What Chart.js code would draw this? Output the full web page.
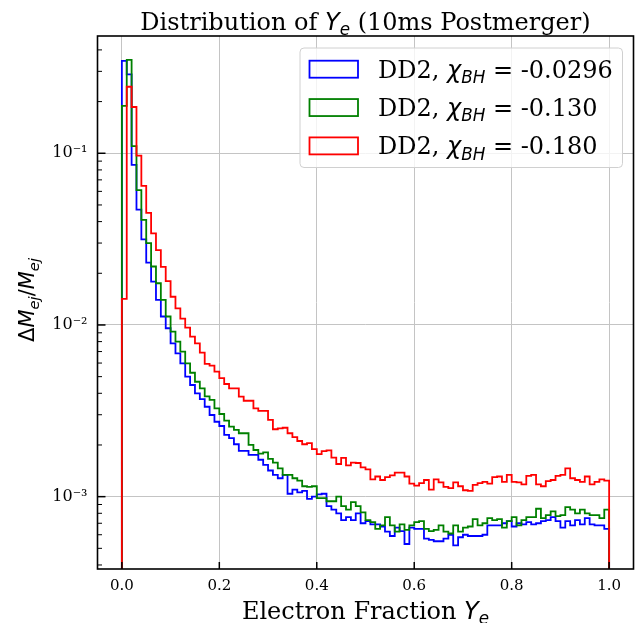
<!DOCTYPE html>
<html>
<head>
<meta charset="utf-8">
<script src="https://cdn.jsdelivr.net/npm/chart.js@4.4.0/dist/chart.umd.min.js"></script>
<style>
  html, body { margin: 0; padding: 0; background: #fff; }
  #wrap { width: 641px; height: 623px; position: relative; }
</style>
</head>
<body>
<div id="wrap"><canvas id="chart_yeDistribution"></canvas></div>
<script>
// histogram of electron fraction, 100 bins of width 0.01 on [0, 1]
const binWidth = 0.01;
const xTickValues = [0.0, 0.2, 0.4, 0.6, 0.8, 1.0];
const yDecades = [-3, -2, -1];

const labelsDD2 = ['-0.0296', '-0.130', '-0.180'];
const colorsDD2 = ['#0000ff', '#008000', '#ff0000'];

const dd2Chi0296 = [
  0.345, 0.288, 0.0855, 0.047, 0.0315, 0.0231, 0.0179, 0.014, 0.0112, 0.00957,
  0.00782, 0.00684, 0.00598, 0.0050, 0.00447, 0.0040, 0.0037, 0.00334, 0.00299, 0.00273,
  0.00258, 0.00229, 0.00219, 0.00202, 0.00185, 0.00185, 0.00175, 0.00175, 0.00164, 0.00153,
  0.00142, 0.00134, 0.00128, 0.00134, 0.00104, 0.0011, 0.00106, 0.00108, 0.00097, 0.001,
  0.00103, 0.00104, 0.00088, 0.00084, 0.0008, 0.00073, 0.00076, 0.00073, 0.0008, 0.0007,
  0.00072, 0.00069, 0.00069, 0.00067, 0.000625, 0.00059, 0.00066, 0.00063, 0.00053, 0.00066,
  0.00065, 0.00065, 0.00057, 0.00056, 0.00055, 0.00055, 0.00057, 0.0006, 0.00052, 0.00058,
  0.0006, 0.00059, 0.00059, 0.00059, 0.0006, 0.00068, 0.00068, 0.00068, 0.0007, 0.00072,
  0.00067, 0.0007, 0.00069, 0.00071, 0.00069, 0.0007, 0.00072, 0.00073, 0.00076, 0.00072,
  0.00066, 0.00072, 0.00068, 0.00073, 0.00069, 0.00075, 0.00069, 0.00068, 0.00068, 0.00065
];
const dd2Chi130 = [
  0.189, 0.35, 0.110, 0.061, 0.0409, 0.030, 0.0219, 0.0175, 0.014, 0.0112,
  0.00914, 0.008, 0.007, 0.00598, 0.00527, 0.00467, 0.00427, 0.00384, 0.00366, 0.00327,
  0.00303, 0.00277, 0.00256, 0.00245, 0.00234, 0.00234, 0.002, 0.00187, 0.00178, 0.00181,
  0.00166, 0.00158, 0.00146, 0.00134, 0.00134, 0.00128, 0.00124, 0.00115, 0.00114, 0.00115,
  0.00098, 0.00098, 0.00094, 0.00094, 0.001, 0.00088, 0.00084, 0.00093, 0.00088, 0.00081,
  0.00073, 0.00071, 0.00065, 0.00068, 0.00076, 0.00068, 0.000625, 0.00069, 0.00064, 0.00068,
  0.00071, 0.00072, 0.00065, 0.00063, 0.00064, 0.00068, 0.000625, 0.00061, 0.00068, 0.000625,
  0.00066, 0.00067, 0.00074, 0.00068, 0.0007, 0.00075, 0.00073, 0.00074, 0.00066, 0.00072,
  0.00076, 0.00068, 0.00073, 0.00076, 0.00076, 0.00085, 0.00075, 0.00078, 0.00082, 0.00077,
  0.00078, 0.00087, 0.00084, 0.0008, 0.00084, 0.0008, 0.00078, 0.00078, 0.00075, 0.00084
];
const dd2Chi180 = [
  0.0142, 0.244, 0.186, 0.097, 0.0645, 0.045, 0.0342, 0.0273, 0.0218, 0.018,
  0.0146, 0.0125, 0.0109, 0.00966, 0.00856, 0.00782, 0.0069, 0.00593, 0.0058, 0.00535,
  0.0049, 0.00453, 0.00427, 0.00427, 0.00382, 0.00362, 0.00362, 0.00327, 0.00316, 0.00316,
  0.0028, 0.00247, 0.0025, 0.00252, 0.00234, 0.00222, 0.00211, 0.00202, 0.00205, 0.00189,
  0.00177, 0.00184, 0.00186, 0.00169, 0.00155, 0.00168, 0.00152, 0.00158, 0.00157, 0.00148,
  0.00144, 0.00126, 0.00131, 0.00125, 0.0013, 0.00133, 0.00138, 0.00138, 0.00131, 0.00119,
  0.00116, 0.0012, 0.00125, 0.0011, 0.00126, 0.00121, 0.00114, 0.00112, 0.00121, 0.00115,
  0.00109, 0.00108, 0.00117, 0.0012, 0.00122, 0.00119, 0.0013, 0.00131, 0.00122, 0.00134,
  0.00122, 0.00121, 0.00118, 0.00132, 0.00134, 0.00118, 0.00115, 0.00123, 0.00125, 0.00132,
  0.00134, 0.00146, 0.00128, 0.00125, 0.00122, 0.00131, 0.00118, 0.00122, 0.00126, 0.00124
];

const yMin = 3.79e-4, yMax = 0.482;
const floorValue = 1e-6; // outline drops to "zero" at both ends (off the log axis)

// step outline like histtype='step': up at the first edge, down at the last one
function toSteps(values) {
  const pts = [{ x: 0, y: floorValue }];
  values.forEach((v, i) => pts.push({ x: i * binWidth, y: v }));
  pts.push({ x: values.length * binWidth, y: floorValue });
  return pts;
}

const SERIF = '"DejaVu Serif", "Liberation Serif", serif';
const SANS = '"DejaVu Sans", "Liberation Sans", sans-serif';
const SUP = { '-': '\u207B', '0': '\u2070', '1': '\u00B9', '2': '\u00B2', '3': '\u00B3', '4': '\u2074',
  '5': '\u2075', '6': '\u2076', '7': '\u2077', '8': '\u2078', '9': '\u2079' };

function richText(ctx, parts, x, y, align) {
  let w = 0;
  parts.forEach(p => { ctx.font = p.font; p.w = ctx.measureText(p.text).width; w += p.w; });
  let cx = align === 'center' ? x - w / 2 : x;
  parts.forEach(p => { ctx.font = p.font; ctx.fillText(p.text, cx, y + (p.dy || 0)); cx += p.w; });
  return w;
}

function mathSub(base, sub, size, serifLead, serifTail) {
  const parts = [];
  if (serifLead) parts.push({ text: serifLead, font: size + 'px ' + SERIF });
  parts.push({ text: base, font: 'italic ' + size + 'px ' + SANS });
  parts.push({ text: sub, font: 'italic ' + (size * 0.7).toFixed(1) + 'px ' + SANS, dy: size * 0.22 });
  if (serifTail) parts.push({ text: serifTail, font: size + 'px ' + SERIF });
  return parts;
}

const decorPlugin = {
  id: 'decor',
  afterDraw(chart) {
    const ctx = chart.ctx, a = chart.chartArea;
    const xs = chart.scales.x, ys = chart.scales.y;
    ctx.save();
    ctx.strokeStyle = '#000';
    // inward ticks
    ys.ticks.forEach(t => {
      const py = ys.getPixelForValue(t.value);
      if (py < a.top || py > a.bottom) return;
      ctx.lineWidth = t.major ? 1.5 : 1;
      ctx.beginPath();
      ctx.moveTo(a.left, py);
      ctx.lineTo(a.left + (t.major ? 8 : 4.5), py);
      ctx.stroke();
    });
    xs.ticks.forEach(t => {
      const px = xs.getPixelForValue(t.value);
      ctx.lineWidth = 1.5;
      ctx.beginPath();
      ctx.moveTo(px, a.bottom);
      ctx.lineTo(px, a.bottom - 7);
      ctx.stroke();
    });
    // frame
    ctx.lineWidth = 1.6;
    ctx.strokeRect(a.left, a.top, a.right - a.left, a.bottom - a.top);

    // legend
    const lx = 300, ly = 48, lw = 322.5, lh = 119.5, r = 4;
    ctx.beginPath();
    ctx.moveTo(lx + r, ly);
    ctx.arcTo(lx + lw, ly, lx + lw, ly + lh, r);
    ctx.arcTo(lx + lw, ly + lh, lx, ly + lh, r);
    ctx.arcTo(lx, ly + lh, lx, ly, r);
    ctx.arcTo(lx, ly, lx + lw, ly, r);
    ctx.closePath();
    ctx.fillStyle = 'rgba(255,255,255,0.8)';
    ctx.fill();
    ctx.strokeStyle = '#d0d0d0';
    ctx.lineWidth = 1;
    ctx.stroke();
    ctx.textBaseline = 'alphabetic';
    chart.data.datasets.forEach((ds, i) => {
      const cy = 69.2 + i * 38.35;
      ctx.strokeStyle = ds.borderColor;
      ctx.lineWidth = 1.8;
      ctx.strokeRect(309.5, cy - 8.5, 48.5, 17);
      ctx.fillStyle = '#000';
      richText(ctx, mathSub('\u03C7', 'BH', 24, 'DD2, ', ' = ' + ds.chiLabel), 378, cy + 8.5, 'left');
    });

    // title and axis labels
    ctx.fillStyle = '#000';
    richText(ctx, mathSub('Y', 'e', 24, 'Distribution of ', ' (10ms Postmerger)'), (a.left + a.right) / 2, 29.5, 'center');
    richText(ctx, mathSub('Y', 'e', 24, 'Electron Fraction ', ''), (a.left + a.right) / 2, 618.5, 'center');
    ctx.translate(34, 300);
    ctx.rotate(-Math.PI / 2);
    const s = 21, sub = 'italic ' + (s * 0.7).toFixed(1) + 'px ' + SANS, dy = s * 0.22;
    richText(ctx, [
      { text: '\u0394', font: s + 'px ' + SANS },
      { text: 'M', font: 'italic ' + s + 'px ' + SANS },
      { text: 'ej', font: sub, dy: dy },
      { text: '/', font: s + 'px ' + SANS },
      { text: 'M', font: 'italic ' + s + 'px ' + SANS },
      { text: 'ej', font: sub, dy: dy }
    ], 0, 0, 'center');
    ctx.restore();
  }
};

const seriesValues = [dd2Chi0296, dd2Chi130, dd2Chi180];

const chart_yeDistribution = new Chart(document.getElementById('chart_yeDistribution'), {
  type: 'line',
  data: {
    datasets: seriesValues.map((vals, i) => ({
      label: 'DD2, \u03C7BH = ' + labelsDD2[i],
      chiLabel: labelsDD2[i],
      data: toSteps(vals),
      borderColor: colorsDD2[i],
      backgroundColor: colorsDD2[i],
      borderWidth: 1.8,
      stepped: 'before',
      pointRadius: 0,
      fill: false,
      order: 3 - i
    }))
  },
  options: {
    animation: false,
    responsive: true,
    maintainAspectRatio: false,
    events: [],
    layout: { padding: { left: 0, right: 7.5, top: 36, bottom: 0 } },
    plugins: {
      legend: { display: false },
      title: { display: false },
      tooltip: { enabled: false }
    },
    scales: {
      x: {
        type: 'linear',
        min: -0.05,
        max: 1.05,
        afterBuildTicks: (scale) => { scale.ticks = xTickValues.map(v => ({ value: v })); },
        afterFit: (scale) => { scale.height = 54; },
        ticks: {
          autoSkip: false,
          maxRotation: 0,
          padding: 8,
          color: '#000',
          font: { family: SERIF, size: 15 },
          callback: (value) => Number(value).toFixed(1)
        },
        grid: { color: '#c4c4c4', lineWidth: 1, drawTicks: false },
        border: { display: false }
      },
      y: {
        type: 'logarithmic',
        min: yMin,
        max: yMax,
        afterBuildTicks: (scale) => {
          const ticks = [];
          for (let e = -4; e <= 0; e++) {
            for (let m = 1; m <= 9; m++) {
              const v = m * Math.pow(10, e);
              if (v >= yMin && v <= yMax) ticks.push({ value: v, major: m === 1 && yDecades.includes(e) });
            }
          }
          scale.ticks = ticks;
        },
        afterFit: (scale) => { scale.width = 97.5; },
        ticks: {
          autoSkip: false,
          padding: 10,
          color: '#000',
          font: { family: SERIF, size: 16 },
          callback: (value, index, ticks) => {
            if (!ticks[index].major) return '';
            const e = String(Math.round(Math.log10(value)));
            return '10' + e.split('').map(c => SUP[c]).join('');
          }
        },
        grid: {
          drawTicks: false,
          lineWidth: 1,
          color: (c) => (c.tick && c.tick.major) ? '#c4c4c4' : 'rgba(0,0,0,0)'
        },
        border: { display: false }
      }
    }
  },
  plugins: [decorPlugin]
});
</script>
</body>
</html>
